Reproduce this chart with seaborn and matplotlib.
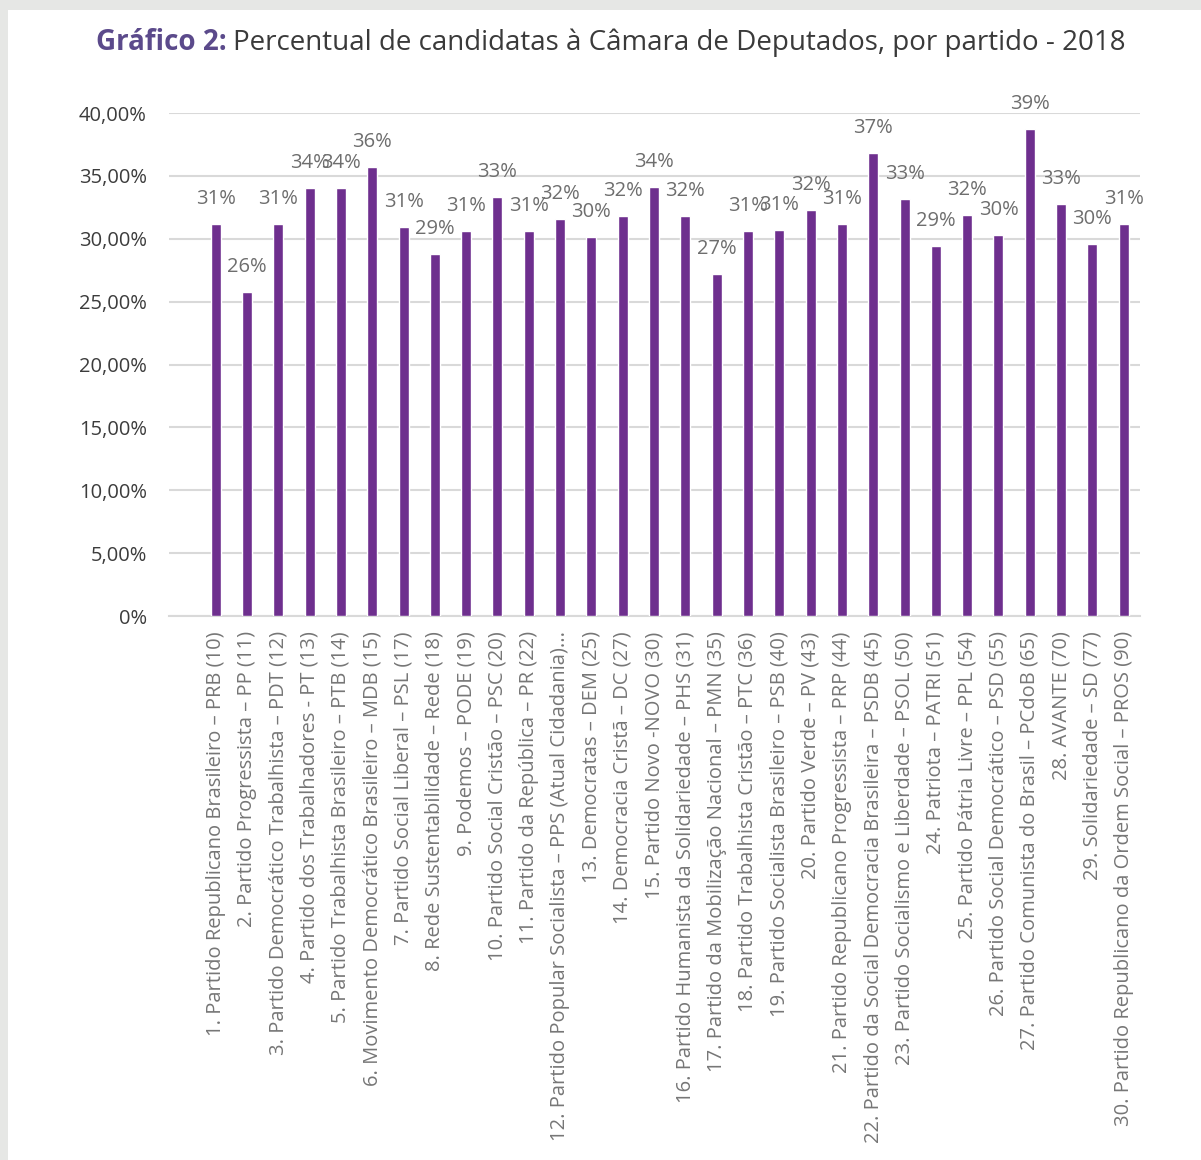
import matplotlib
matplotlib.use("Agg")
import matplotlib.pyplot as plt
import seaborn as sns
import pandas as pd
from matplotlib.patches import Rectangle

# dados
partidos = [
    "1. Partido Republicano Brasileiro – PRB (10)",
    "2. Partido Progressista – PP (11)",
    "3. Partido Democrático Trabalhista – PDT (12)",
    "4. Partido dos Trabalhadores - PT (13)",
    "5. Partido Trabalhista Brasileiro – PTB (14)",
    "6. Movimento Democrático Brasileiro – MDB (15)",
    "7. Partido Social Liberal – PSL (17)",
    "8. Rede Sustentabilidade – Rede (18)",
    "9. Podemos – PODE (19)",
    "10. Partido Social Cristão – PSC (20)",
    "11. Partido da República – PR (22)",
    "12. Partido Popular Socialista – PPS (Atual Cidadania)...",
    "13. Democratas – DEM (25)",
    "14. Democracia Cristã – DC (27)",
    "15. Partido Novo -NOVO (30)",
    "16. Partido Humanista da Solidariedade – PHS (31)",
    "17. Partido da Mobilização Nacional – PMN (35)",
    "18. Partido Trabalhista Cristão – PTC (36)",
    "19. Partido Socialista Brasileiro – PSB (40)",
    "20. Partido Verde – PV (43)",
    "21. Partido Republicano Progressista – PRP (44)",
    "22. Partido da Social Democracia Brasileira – PSDB (45)",
    "23. Partido Socialismo e Liberdade – PSOL (50)",
    "24. Patriota – PATRI (51)",
    "25. Partido Pátria Livre – PPL (54)",
    "26. Partido Social Democrático – PSD (55)",
    "27. Partido Comunista do Brasil – PCdoB (65)",
    "28. AVANTE (70)",
    "29. Solidariedade – SD (77)",
    "30. Partido Republicano da Ordem Social – PROS (90)",
]
percentual = [31.2, 25.8, 31.2, 34.0, 34.0, 35.7, 30.9, 28.8, 30.6, 33.3,
              30.6, 31.6, 30.1, 31.8, 34.1, 31.8, 27.2, 30.6, 30.7, 32.3,
              31.2, 36.8, 33.2, 29.4, 31.9, 30.3, 38.7, 32.8, 29.6, 31.2]
rotulos = [f"{round(v):d}%" for v in percentual]
y_ticks = [0, 5, 10, 15, 20, 25, 30, 35, 40]
y_tick_labels = ["0%", "5,00%", "10,00%", "15,00%", "20,00%", "25,00%",
                 "30,00%", "35,00%", "40,00%"]

df = pd.DataFrame({"partido": partidos, "percentual": percentual})

sns.set_theme(style="white")
plt.rcParams["font.family"] = ["Open Sans", "DejaVu Sans"]

roxo = "#6e2f8e"
fig = plt.figure(figsize=(12.01, 11.60), dpi=100, facecolor="#e6e7e5")
fig.patches.append(Rectangle((8 / 1201, 0), 1, 1150 / 1160, transform=fig.transFigure,
                             facecolor="white", edgecolor="none", zorder=-10))
ax = fig.add_axes([169 / 1201, 1 - 616 / 1160, (1140 - 169) / 1201, (616 - 113) / 1160])
ax.set_facecolor("none")

sns.barplot(data=df, x="partido", y="percentual", color=roxo, width=0.32,
            saturation=1, ax=ax, zorder=3)

for i, (v, r) in enumerate(zip(percentual, rotulos)):
    ax.annotate(r, (i, v), xytext=(0, 18), textcoords="offset points",
                ha="center", va="center", fontsize=14.5, color="#6e6e6e",
                annotation_clip=False, zorder=4)

ax.set_ylim(0, 40)
ax.set_xlim(-1.49, 29.52)
ax.set_yticks(y_ticks)
ax.set_yticklabels(y_tick_labels, fontsize=14.5, color="#3c3c3c")
ax.set_xticks(range(len(partidos)))
ax.set_xticklabels(partidos, rotation=90, fontsize=14.5, color="#767676")
ax.tick_params(axis="y", length=0, pad=16)
ax.tick_params(axis="x", length=0, pad=11)
ax.yaxis.grid(True, color="#d9d9d9", linewidth=1.5, zorder=0)
ax.set_xlabel("")
ax.set_ylabel("")
for s in ["top", "right", "left"]:
    ax.spines[s].set_visible(False)
ax.spines["bottom"].set_color("#d9d9d9")
ax.spines["bottom"].set_linewidth(1.5)

# título em duas partes
t1 = fig.text(96 / 1201, 1 - 43 / 1160, "Gráfico 2:", fontsize=20, fontweight="bold",
              color="#5b4a8b", va="center", ha="left")
fig.canvas.draw()
bb = t1.get_window_extent()
fig.text((bb.x1 + 6) / 1201, 1 - 43 / 1160,
         "Percentual de candidatas à Câmara de Deputados, por partido - 2018",
         fontsize=20, color="#3a3a3a", va="center", ha="left")

fig.savefig("out.png", dpi=100, facecolor=fig.get_facecolor())
